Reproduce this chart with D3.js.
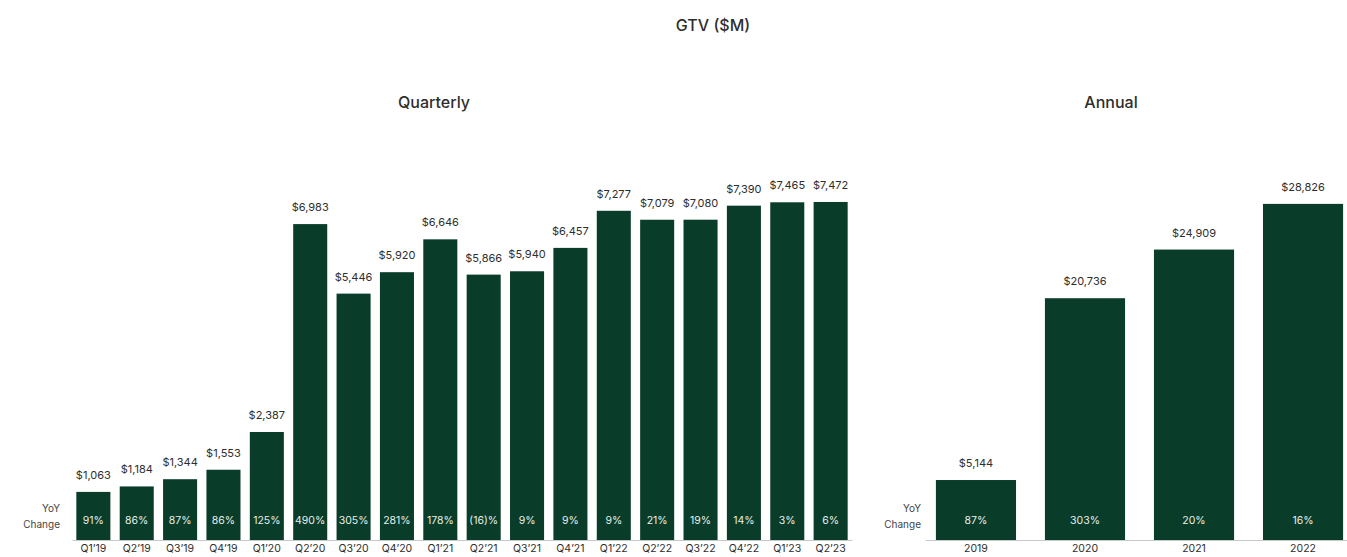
<!DOCTYPE html>
<html><head><meta charset="utf-8">
<script src="https://cdn.jsdelivr.net/npm/d3@7"></script>
<style>
body{margin:0;background:#fff;}
svg{display:block;font-family:Inter, "Noto Sans", sans-serif;}
</style></head>
<body><svg id="c" width="1347" height="557"></svg>
<script>
const quarters = ["Q1’19","Q2’19","Q3’19","Q4’19","Q1’20","Q2’20","Q3’20","Q4’20","Q1’21","Q2’21","Q3’21","Q4’21","Q1’22","Q2’22","Q3’22","Q4’22","Q1’23","Q2’23"];
const quarterlyGTV = [1063,1184,1344,1553,2387,6983,5446,5920,6646,5866,5940,6457,7277,7079,7080,7390,7465,7472];
const quarterlyYoY = ["91%","86%","87%","86%","125%","490%","305%","281%","178%","(16)%","9%","9%","9%","21%","19%","14%","3%","6%"];
const years = ["2019","2020","2021","2022"];
const annualGTV = [5144,20736,24909,28826];
const annualYoY = ["87%","303%","20%","16%"];

const svg = d3.select("#c");
const green = "#0a3d29";
const textCol = "#2e2e2e";
const fmt = v => "$" + d3.format(",")(v);
const baseY = 540;

svg.append("text").attr("x",713).attr("y",31).attr("text-anchor","middle")
  .attr("font-size",16).attr("font-weight",500).attr("fill",textCol).text("GTV ($M)");
svg.append("text").attr("x",434).attr("y",108).attr("text-anchor","middle")
  .attr("font-size",16).attr("font-weight",500).attr("fill",textCol).text("Quarterly");
svg.append("text").attr("x",1111).attr("y",108).attr("text-anchor","middle")
  .attr("font-size",16).attr("font-weight",500).attr("fill",textCol).text("Annual");

function panel(cats, vals, yoy, xr, yMax, yTop, yoyX){
  const x = d3.scaleBand().domain(cats).range(xr).paddingInner(xr.pi).paddingOuter(0.1);
  const y = d3.scaleLinear().domain([0,yMax]).range([baseY,yTop]);
  const g = svg.append("g");
  g.selectAll("rect").data(cats).join("rect")
    .attr("x",d=>x(d)).attr("width",x.bandwidth())
    .attr("y",(d,i)=>y(vals[i])).attr("height",(d,i)=>baseY-y(vals[i]))
    .attr("fill",green);
  g.selectAll("text.v").data(cats).join("text").attr("class","v")
    .attr("x",d=>x(d)+x.bandwidth()/2).attr("y",(d,i)=>y(vals[i])-13)
    .attr("text-anchor","middle").attr("font-size",11).attr("fill",textCol)
    .text((d,i)=>fmt(vals[i]));
  g.selectAll("text.p").data(cats).join("text").attr("class","p")
    .attr("x",d=>x(d)+x.bandwidth()/2).attr("y",524)
    .attr("text-anchor","middle").attr("font-size",10.5).attr("fill","#e8efe9")
    .text((d,i)=>yoy[i]);
  const ax = svg.append("g").attr("transform",`translate(0,${baseY})`)
    .call(d3.axisBottom(x).tickSize(0).tickSizeOuter(0).tickPadding(5));
  ax.select(".domain").attr("stroke","#c9c9c9").attr("stroke-width",1.2);
  ax.selectAll("text").attr("font-size",10.5).attr("fill",textCol).attr("font-family","Inter, sans-serif");
  const lab = svg.append("text").attr("text-anchor","end").attr("font-size",10).attr("fill","#444");
  lab.append("tspan").attr("x",yoyX).attr("y",512).text("YoY");
  lab.append("tspan").attr("x",yoyX).attr("y",528).text("Change");
}
const qr=[72,852]; qr.pi=0.215;
panel(quarters, quarterlyGTV, quarterlyYoY, qr, 8000, baseY-8000*0.04524, 60);
const ar=[925,1354]; ar.pi=0.265;
panel(years, annualGTV, annualYoY, ar, 30000, baseY-30000*0.01166, 921);
</script></body></html>
